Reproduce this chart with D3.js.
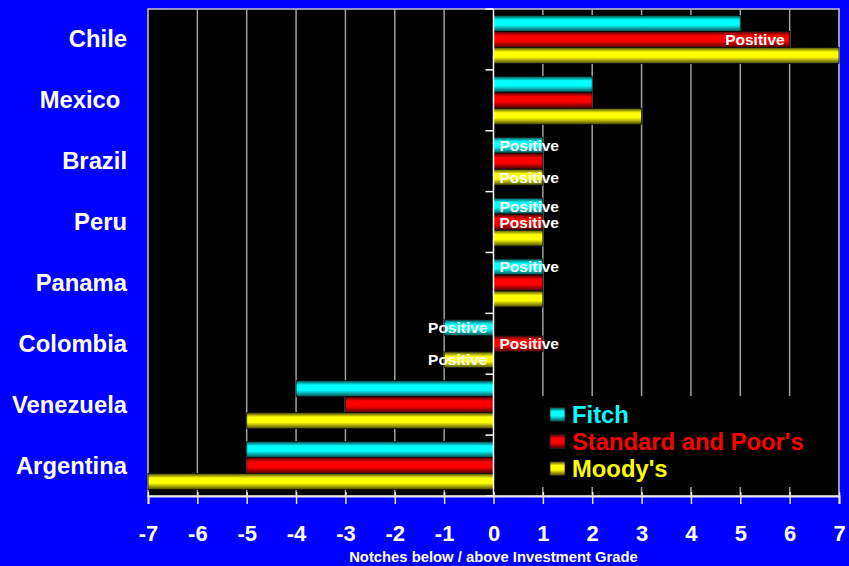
<!DOCTYPE html>
<html>
<head>
<meta charset="utf-8">
<script src="https://cdn.jsdelivr.net/npm/d3@7"></script>
<style>
  html, body { margin: 0; padding: 0; background: #0000ff; }
  svg { display: block; font-family: "Liberation Sans", Arial, sans-serif; font-weight: bold; }
</style>
</head>
<body>
<script>
// ratings data, notches below / above investment grade
const countries = ["Chile", "Mexico ", "Brazil", "Peru", "Panama", "Colombia", "Venezuela", "Argentina"];
const fitch   = [5, 2, 1, 1, 1, -1, -4, -5];
const sp      = [6, 2, 1, 1, 1, 1, -3, -5];
const moodys  = [7, 3, 1, 1, 1, -1, -5, -7];
const fitchOutlook  = ["", "", "Positive", "Positive", "Positive", "Positive", "", ""];
const spOutlook     = ["Positive", "", "", "Positive", "", "Positive", "", ""];
const moodysOutlook = ["", "", "Positive", "", "", "Positive", "", ""];
const seriesNames = ["Fitch", "Standard and Poor's", "Moody's"];
const xTicks = d3.range(-7, 8);

const series = [
    { name: seriesNames[0], values: fitch, outlook: fitchOutlook, color: "#00ffff", dark: "#004848", id: "gFitch" },
    { name: seriesNames[1], values: sp, outlook: spOutlook, color: "#ff0000", dark: "#480000", id: "gSP" },
    { name: seriesNames[2], values: moodys, outlook: moodysOutlook, color: "#ffff00", dark: "#484800", id: "gMoodys" }
];

const W = 849, H = 566;
const plot = { left: 148, right: 839, top: 9, bottom: 496 };

const svg = d3.select("body").append("svg")
    .attr("width", W)
    .attr("height", H);

svg.append("rect").attr("width", W).attr("height", H).attr("fill", "#0000ff");

// cylinder-ish gradients
const defs = svg.append("defs");
series.forEach(s => {
    const g = defs.append("linearGradient").attr("id", s.id)
        .attr("x1", 0).attr("y1", 0).attr("x2", 0).attr("y2", 1);
    g.append("stop").attr("offset", "0%").attr("stop-color", s.dark);
    g.append("stop").attr("offset", "28%").attr("stop-color", s.color);
    g.append("stop").attr("offset", "60%").attr("stop-color", s.color);
    g.append("stop").attr("offset", "100%").attr("stop-color", s.dark);
});

const x = d3.scaleLinear().domain([-7, 7]).range([plot.left, plot.right]);
const y = d3.scaleBand().domain(countries).range([plot.top, plot.bottom]).paddingInner(0).paddingOuter(0);
const ySub = d3.scaleBand().domain(seriesNames).range([0, y.bandwidth()]).paddingInner(0).paddingOuter(0.4);

// plot area
svg.append("rect")
    .attr("x", plot.left).attr("y", plot.top)
    .attr("width", plot.right - plot.left).attr("height", plot.bottom - plot.top)
    .attr("fill", "#000").attr("stroke", "#c8c8c8").attr("stroke-width", 1.5);

// gridlines
svg.append("g").selectAll("line")
    .data(xTicks.filter(d => d !== 0 && d !== 7 && d !== -7))
    .enter().append("line")
    .attr("x1", d => x(d)).attr("x2", d => x(d))
    .attr("y1", plot.top).attr("y2", plot.bottom)
    .attr("stroke", "#a0a0a0").attr("stroke-width", 1.5);

// bars
const bars = svg.append("g");
series.forEach(s => {
    const grp = bars.append("g");
    grp.selectAll("rect")
        .data(s.values.map((v, i) => ({ v: v, c: countries[i] })))
        .enter().append("rect")
        .attr("x", d => x(Math.min(0, d.v)))
        .attr("y", d => y(d.c) + ySub(s.name))
        .attr("width", d => Math.abs(x(d.v) - x(0)))
        .attr("height", ySub.bandwidth())
        .attr("fill", `url(#${s.id})`)
        .attr("stroke", "#101010").attr("stroke-width", 0.8);
});

// category axis at zero
svg.append("line")
    .attr("x1", x(0)).attr("x2", x(0))
    .attr("y1", plot.top).attr("y2", plot.bottom)
    .attr("stroke", "#fff").attr("stroke-width", 1.5);
svg.append("g").selectAll("line")
    .data(countries.map(c => y(c)).concat([plot.bottom]))
    .enter().append("line")
    .attr("x1", x(0) - 8).attr("x2", x(0))
    .attr("y1", d => d).attr("y2", d => d)
    .attr("stroke", "#fff").attr("stroke-width", 1.5);

// outlook labels
const labels = svg.append("g")
    .style("font-size", "15.5px").attr("fill", "#fff");
series.forEach(s => {
    s.values.forEach((v, i) => {
        if (!s.outlook[i]) return;
        const cy = y(countries[i]) + ySub(s.name) + ySub.bandwidth() / 2;
        const t = labels.append("text")
            .attr("y", cy)
            .attr("dy", "0.36em")
            .text(s.outlook[i]);
        const tw = t.node().getComputedTextLength();
        const len = Math.abs(x(v) - x(0));
        if (len > tw + 10) {
            t.attr("x", x(v) - 5 * Math.sign(v)).attr("text-anchor", v > 0 ? "end" : "start");
        } else {
            t.attr("x", x(0) + 6 * Math.sign(v)).attr("text-anchor", v > 0 ? "start" : "end");
        }
    });
});

// category labels
svg.append("g").selectAll("text")
    .data(countries)
    .enter().append("text")
    .attr("x", 127)
    .attr("y", d => y(d) + y.bandwidth() / 2 + 8)
    .attr("text-anchor", "end")
    .style("white-space", "pre")
    .style("font-size", "23.8px")
    .attr("fill", "#fff")
    .text(d => d);

// x axis
const xAxis = svg.append("g")
    .attr("transform", `translate(0,${plot.bottom})`)
    .call(d3.axisBottom(x).tickValues(xTicks).tickSize(8).tickPadding(21).tickFormat(d => String(d)));
xAxis.select(".domain").attr("stroke", "#e8e8e8").attr("stroke-width", 2);
xAxis.selectAll(".tick line").attr("stroke", "#e8e8e8").attr("stroke-width", 1.5).attr("y1", -4);
xAxis.selectAll(".tick text")
    .attr("fill", "#fff")
    .style("font-family", "'Liberation Sans', Arial, sans-serif")
    .style("font-weight", "bold")
    .style("font-size", "22px");

svg.append("text")
    .attr("x", x(0))
    .attr("y", 562)
    .attr("text-anchor", "middle")
    .style("font-size", "14.8px")
    .attr("fill", "#fff")
    .text("Notches below / above Investment Grade");

// legend
const legend = svg.append("g");
legend.append("rect")
    .attr("x", 540).attr("y", 396)
    .attr("width", 298).attr("height", 91)
    .attr("fill", "#000");
series.forEach((s, i) => {
    const ly = 414.5 + i * 27;
    legend.append("rect")
        .attr("x", 550).attr("y", ly - 7)
        .attr("width", 15).attr("height", 14)
        .attr("fill", `url(#${s.id})`)
        .attr("stroke", "#202020").attr("stroke-width", 0.8);
    legend.append("text")
        .attr("x", 572).attr("y", ly)
        .attr("dy", "0.36em")
        .style("font-size", "23.8px")
        .attr("fill", s.color)
        .text(s.name);
});
</script>
</body>
</html>
